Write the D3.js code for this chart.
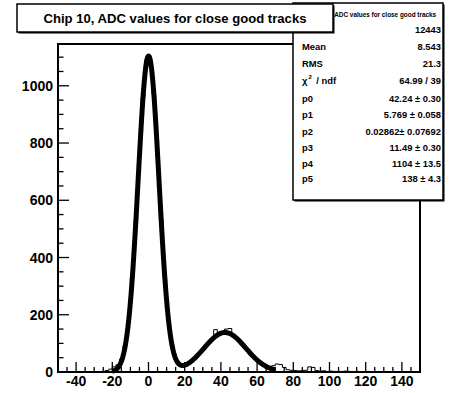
<!DOCTYPE html>
<html>
<head>
<meta charset="utf-8">
<script src="https://cdn.jsdelivr.net/npm/d3@7"></script>
<style>
  html, body { margin: 0; padding: 0; background: #fff; }
  svg { display: block; font-family: "Liberation Sans", Arial, sans-serif; font-weight: bold; }
</style>
</head>
<body>
<svg id="chart" width="450" height="393"></svg>
<script>
// Histogram: 100 bins of width 2 from -50 to 150
const binLow = -50;
const binWidth = 2;
const counts = [
  0, 0, 0, 0, 0, 0, 0, 0, 0, 0, 0, 0,
  2, 5, 10,
  18, 25, 45, 92, 180, 330, 525, 760, 960, 1091,
  1080, 970, 750, 535, 330, 185, 95, 48, 30, 25,
  28, 35, 46, 58, 72, 88, 100, 115, 148, 135,
  140, 150, 152, 128, 118, 104, 92, 78, 62, 50,
  38, 28, 20, 14, 22,
  28, 26, 16, 8, 6, 5, 4, 5, 6, 18,
  16, 5, 3, 4, 2, 3, 2, 1, 2, 3,
  2, 1, 2, 1, 1, 2, 1, 1, 0, 1,
  1, 0, 1, 1, 0, 1, 0, 0, 1, 0
];

// Fit: p4*gaus(x; p2, p1) + p5*gaus(x; p0, p3), fitted over [-20, 70]
const fitParams = { p0: 42.24, p1: 5.769, p2: 0.02862, p3: 11.49, p4: 1104, p5: 138 };
const fitRange = [-20, 70];

const xTicks = [-40, -20, 0, 20, 40, 60, 80, 100, 120, 140];
const yTicks = [0, 200, 400, 600, 800, 1000];

const titleText = "Chip 10, ADC values for close good tracks";
const statLabels = ["Entries", "Mean", "RMS", "chi2", "p0", "p1", "p2", "p3", "p4", "p5"];
const statValues = ["12443", "8.543", "21.3", "64.99 / 39",
  "42.24 \u00b1 0.30", "5.769 \u00b1 0.058", "0.02862\u00b1 0.07692",
  "11.49 \u00b1 0.30", "1104 \u00b1 13.5", "138 \u00b1 4.3"];

const svg = d3.select("#chart");
const frame = { left: 58, right: 420, top: 44, bottom: 372 };

const x = d3.scaleLinear().domain([-50, 150]).range([frame.left, frame.right]);
const y = d3.scaleLinear().domain([0, 1146]).range([frame.bottom, frame.top]);

// histogram outline
const bins = counts.map((c, i) => ({ x0: binLow + i * binWidth, x1: binLow + (i + 1) * binWidth, c }));
let hp = `M${x(bins[0].x0)},${y(0)}`;
bins.forEach(b => { hp += `L${x(b.x0)},${y(b.c)}L${x(b.x1)},${y(b.c)}`; });
hp += `L${x(bins[bins.length - 1].x1)},${y(0)}`;
svg.append("path").attr("d", hp).attr("fill", "none").attr("stroke", "#000").attr("stroke-width", 1);

// fit curve
const g = (v, a, m, s) => a * Math.exp(-0.5 * ((v - m) / s) ** 2);
const fitFn = v => g(v, fitParams.p4, fitParams.p2, fitParams.p1) + g(v, fitParams.p5, fitParams.p0, fitParams.p3);
const fx = d3.range(fitRange[0], fitRange[1] + 0.001, 0.25);
svg.append("path")
  .datum(fx)
  .attr("d", d3.line().x(d => x(d)).y(d => y(fitFn(d))).curve(d3.curveLinear))
  .attr("fill", "none").attr("stroke", "#000").attr("stroke-width", 5)
  .attr("stroke-linejoin", "round");

// frame
svg.append("rect")
  .attr("x", frame.left).attr("y", frame.top)
  .attr("width", frame.right - frame.left).attr("height", frame.bottom - frame.top)
  .attr("fill", "none").attr("stroke", "#000").attr("stroke-width", 2);

// x axis ticks (inside, upwards)
const xAxis = svg.append("g");
d3.range(-45, 150, 5).forEach(v => {
  const major = v % 20 === 0;
  xAxis.append("line")
    .attr("x1", x(v)).attr("x2", x(v))
    .attr("y1", frame.bottom).attr("y2", frame.bottom - (major ? 10 : 5))
    .attr("stroke", "#000").attr("stroke-width", 1.3);
});
xAxis.selectAll("text.xl").data(xTicks).enter().append("text")
  .attr("x", d => x(d)).attr("y", 386)
  .attr("text-anchor", "middle").attr("font-size", 14)
  .text(d => d);

// y axis ticks (inside, rightwards)
const yAxis = svg.append("g");
d3.range(50, 1146, 50).forEach(v => {
  const major = v % 200 === 0;
  yAxis.append("line")
    .attr("x1", frame.left).attr("x2", frame.left + (major ? 11 : 5.5))
    .attr("y1", y(v)).attr("y2", y(v))
    .attr("stroke", "#000").attr("stroke-width", 1.3);
});
yAxis.selectAll("text.yl").data(yTicks).enter().append("text")
  .attr("x", 53).attr("y", d => y(d) + 5)
  .attr("text-anchor", "end").attr("font-size", 14)
  .text(d => d);

// statistics box
const sb = { x: 293, y: 3, w: 150, h: 197 };
svg.append("rect").attr("x", sb.x + 1.5).attr("y", sb.y + 1.5).attr("width", sb.w).attr("height", sb.h)
  .attr("fill", "#000");
svg.append("rect").attr("x", sb.x).attr("y", sb.y).attr("width", sb.w).attr("height", sb.h)
  .attr("fill", "#fff").attr("stroke", "#000").attr("stroke-width", 1.5);
svg.append("text").attr("x", 372).attr("y", 17).attr("text-anchor", "middle")
  .attr("font-size", 6.4).text(titleText);
const rowY = [33, 50, 67, 84, 101.5, 118, 135, 150.5, 167, 182];
statLabels.forEach((lab, i) => {
  const t = svg.append("text").attr("x", 302).attr("y", rowY[i]).attr("font-size", 9.4);
  if (lab === "chi2") {
    t.append("tspan").text("\u03c7");
    t.append("tspan").attr("dx", 1).attr("dy", -5).attr("font-size", 6).text("2");
    t.append("tspan").attr("dx", 2).attr("dy", 5).text(" / ndf");
  } else {
    t.text(lab);
  }
  svg.append("text").attr("x", 441).attr("y", rowY[i]).attr("text-anchor", "end")
    .attr("font-size", 9.4).text(statValues[i]);
});

// title box (drawn over the stats box)
svg.append("rect").attr("x", 18.5).attr("y", 5.5).attr("width", 316).attr("height", 28)
  .attr("fill", "#000");
svg.append("rect").attr("x", 17).attr("y", 4).attr("width", 316).attr("height", 28)
  .attr("fill", "#fff").attr("stroke", "#000").attr("stroke-width", 1.5);
svg.append("text").attr("x", 175).attr("y", 22.5).attr("text-anchor", "middle")
  .attr("font-size", 13.1).text(titleText);
</script>
</body>
</html>
